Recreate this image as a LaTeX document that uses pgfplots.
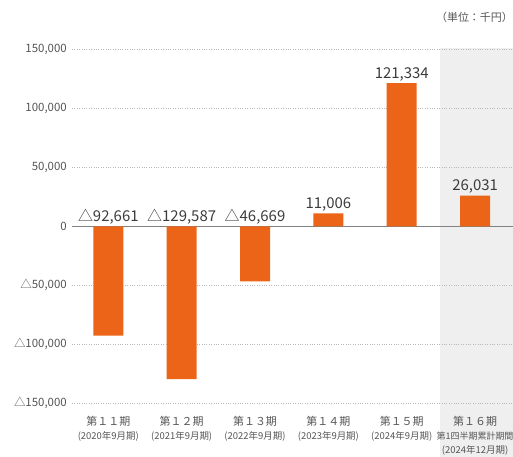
\documentclass[border=0pt]{standalone}
\usepackage{fontspec}
\setmainfont{Noto Sans CJK JP}
\usepackage{pgfplots}
\pgfplotsset{compat=1.18}
\definecolor{barorange}{RGB}{236,100,24}
\definecolor{bggray}{RGB}{239,239,239}
\definecolor{gridgray}{RGB}{185,185,185}
\definecolor{zerogray}{RGB}{130,130,130}
\definecolor{txt}{RGB}{60,60,60}
\definecolor{ticktxt}{RGB}{85,85,85}
\newcommand{\sm}{\fontsize{9.5}{14}\selectfont}
\newcommand{\smm}{\fontsize{9}{14}\selectfont}
\begin{document}
\begin{tikzpicture}
\path[use as bounding box] (0bp,0bp) rectangle (513bp,457bp);
\fill[bggray] (440bp,0bp) rectangle (513bp,409bp);
\node[anchor=east, font=\fontsize{11}{12}\selectfont, text=ticktxt, inner sep=0pt] at (513bp,440bp) {（単位：千円）};
\begin{axis}[
  at={(72bp,53.7bp)}, anchor=south west,
  scale only axis, width=441bp, height=354bp,
  xmin=-0.495, xmax=5.517, ymin=-150000, ymax=150000,
  axis line style={draw=none},
  major tick length=0pt,
  clip=false,
  scaled y ticks=false,
  ytick={-150000,-100000,-50000,50000,100000,150000},
  yticklabels={{△150,000},{△100,000},{△50,000},{50,000},{100,000},{150,000}},
  extra y ticks={0},
  extra y tick labels={0},
  extra y tick style={grid=major, major grid style={solid, draw=zerogray, line width=1bp}},
  ymajorgrids,
  major grid style={draw=gridgray, dash pattern=on 1bp off 1.4bp, line width=0.9bp},
  yticklabel style={anchor=east, inner sep=0pt, xshift=-5bp, font=\fontsize{11.5}{13}\selectfont, text=ticktxt},
  xtick={0,1,2,3,4,5},
  xticklabels={
    {第１１期\\{\sm (2020年9月期)}},
    {第１２期\\{\sm (2021年9月期)}},
    {第１３期\\{\sm (2022年9月期)}},
    {第１４期\\{\sm (2023年9月期)}},
    {第１５期\\{\sm (2024年9月期)}},
    {第１６期\\{\smm{}第1四半期累計期間}\\{\sm (2024年12月期)}}},
  xticklabel style={align=center, anchor=north, inner sep=0pt, yshift=-13bp, font=\fontsize{11}{14}\selectfont, text=ticktxt},
]
\addplot[ybar, bar width=30bp, bar shift=0pt, fill=barorange, draw=none]
  coordinates {(0,-92661) (1,-129587) (2,-46669) (3,11006) (4,121334) (5,26031)};
\addplot[draw=none, mark=none, nodes near coords, point meta=explicit symbolic,
  nodes near coords style={anchor=south, inner sep=0pt, yshift=4.5bp, text depth=0pt, font=\fontsize{15}{15}\selectfont, text=txt}]
  coordinates {(0,0) [△92,661] (1,0) [△129,587] (2,0) [△46,669] (3,11006) [11,006] (4,121334) [121,334] (5,26031) [26,031]};
\end{axis}
\end{tikzpicture}
\end{document}
